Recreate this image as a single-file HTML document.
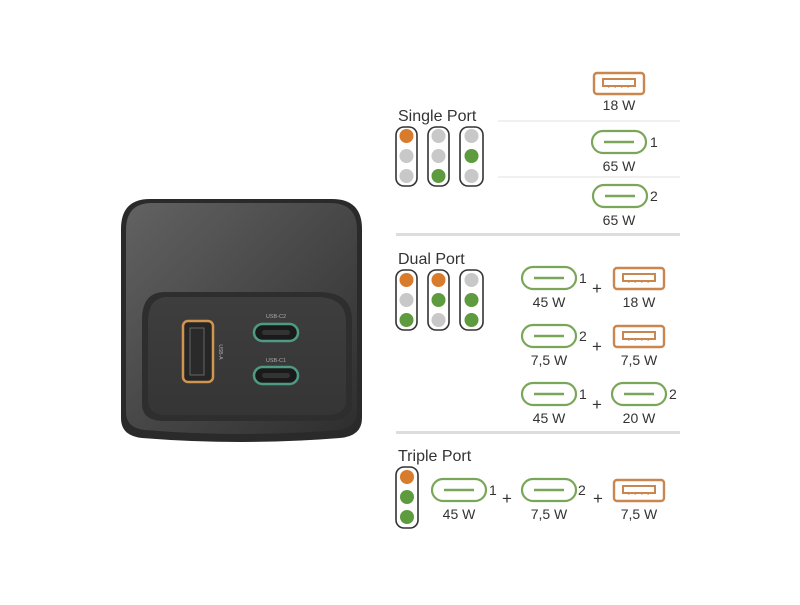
<!DOCTYPE html>
<html><head><meta charset="utf-8"><style>
html,body{margin:0;padding:0;background:#fff;}
body{width:800px;height:600px;overflow:hidden;}
text{font-family:"Liberation Sans",sans-serif;}
</style></head><body>
<svg width="800" height="600" viewBox="0 0 800 600" xmlns="http://www.w3.org/2000/svg">
<defs>
<linearGradient id="bg" x1="0" y1="0" x2="1" y2="1">
<stop offset="0" stop-color="#626262"/><stop offset="0.6" stop-color="#424242"/><stop offset="1" stop-color="#2e2e2e"/>
</linearGradient>
<linearGradient id="pg" x1="0" y1="0" x2="0" y2="1">
<stop offset="0" stop-color="#3e3e3e"/><stop offset="1" stop-color="#353535"/>
</linearGradient>
<g id="uc"><rect x="0" y="0" width="54" height="22" rx="11" fill="#fff" stroke="#7aa65a" stroke-width="2.2"/><line x1="12" y1="11" x2="42" y2="11" stroke="#7aa65a" stroke-width="2.4"/></g>
<g id="ua"><rect x="0" y="0" width="50" height="21" rx="3" fill="#fff" stroke="#c9874f" stroke-width="2.4"/><rect x="9" y="6" width="32" height="7" fill="#fff" stroke="#c9874f" stroke-width="2"/><line x1="14" y1="14" x2="36" y2="14" stroke="#c9874f" stroke-width="1.2" stroke-dasharray="1.5 5"/></g>
</defs>

<path d="M150 199 H332 Q362 199 362 229 V418 Q362 436 340 438 Q242 446 142 438 Q121 436 121 418 V229 Q121 199 150 199 Z" fill="#2a2a2a"/>
<path d="M152 203 H330 Q357 203 357 230 V412 Q357 428 338 430 Q242 438 145 430 Q126 428 126 412 V230 Q126 203 152 203 Z" fill="url(#bg)"/>
<path d="M165 292 H318 Q352 292 352 320 V404 Q352 420 330 421 H162 Q142 420 142 404 V320 Q142 292 165 292 Z" fill="#2e2e2e"/>
<path d="M168 297 H316 Q346 297 346 322 V400 Q346 414 328 415 H164 Q148 414 148 400 V322 Q148 297 168 297 Z" fill="url(#pg)"/>
<rect x="183" y="321" width="30" height="61" rx="5" fill="#262626" stroke="#d0954f" stroke-width="2.5"/>
<rect x="190" y="328" width="14" height="47" fill="#2a2a2a" stroke="#666" stroke-width="1"/>
<text x="219" y="352" font-size="5" fill="#aaa" transform="rotate(90 219 352)" text-anchor="middle">USB-A</text>
<text x="276" y="318" font-size="5.5" fill="#aaa" text-anchor="middle">USB-C2</text>
<rect x="254" y="324" width="44" height="17" rx="8.5" fill="#1a1a1a" stroke="#4f9a84" stroke-width="2.5"/>
<rect x="262" y="330" width="28" height="5" rx="2.5" fill="#333"/>
<text x="276" y="362" font-size="5.5" fill="#aaa" text-anchor="middle">USB-C1</text>
<rect x="254" y="367" width="44" height="17" rx="8.5" fill="#1a1a1a" stroke="#4f9a84" stroke-width="2.5"/>
<rect x="262" y="373" width="28" height="5" rx="2.5" fill="#333"/>

<g font-size="16" fill="#333">
<text x="398" y="121">Single Port</text>
<text x="398" y="264">Dual Port</text>
<text x="398" y="461">Triple Port</text>
</g>

<g stroke="#333" stroke-width="1.6" fill="#fff">
<rect x="396" y="127" width="21" height="59" rx="8"/>
<rect x="428" y="127" width="21" height="59" rx="8"/>
<rect x="460" y="127" width="23" height="59" rx="8"/>
<rect x="396" y="270" width="21" height="60" rx="8"/>
<rect x="428" y="270" width="21" height="60" rx="8"/>
<rect x="460" y="270" width="23" height="60" rx="8"/>
<rect x="396" y="467" width="22" height="61" rx="8"/>
</g>
<g>
<circle cx="406.5" cy="136" r="7" fill="#d87b2c"/><circle cx="406.5" cy="156" r="7" fill="#c8c8c8"/><circle cx="406.5" cy="176" r="7" fill="#c8c8c8"/>
<circle cx="438.5" cy="136" r="7" fill="#c8c8c8"/><circle cx="438.5" cy="156" r="7" fill="#c8c8c8"/><circle cx="438.5" cy="176" r="7" fill="#5e9a3e"/>
<circle cx="471.5" cy="136" r="7" fill="#c8c8c8"/><circle cx="471.5" cy="156" r="7" fill="#5e9a3e"/><circle cx="471.5" cy="176" r="7" fill="#c8c8c8"/>
<circle cx="406.5" cy="280" r="7" fill="#d87b2c"/><circle cx="406.5" cy="300" r="7" fill="#c8c8c8"/><circle cx="406.5" cy="320" r="7" fill="#5e9a3e"/>
<circle cx="438.5" cy="280" r="7" fill="#d87b2c"/><circle cx="438.5" cy="300" r="7" fill="#5e9a3e"/><circle cx="438.5" cy="320" r="7" fill="#c8c8c8"/>
<circle cx="471.5" cy="280" r="7" fill="#c8c8c8"/><circle cx="471.5" cy="300" r="7" fill="#5e9a3e"/><circle cx="471.5" cy="320" r="7" fill="#5e9a3e"/>
<circle cx="407" cy="477" r="7" fill="#d87b2c"/><circle cx="407" cy="497" r="7" fill="#5e9a3e"/><circle cx="407" cy="517" r="7" fill="#5e9a3e"/>
</g>

<line x1="498" y1="121" x2="680" y2="121" stroke="#e0e0e0" stroke-width="1"/>
<line x1="498" y1="177" x2="680" y2="177" stroke="#e0e0e0" stroke-width="1"/>
<line x1="396" y1="234.5" x2="680" y2="234.5" stroke="#ddd" stroke-width="3"/>
<line x1="396" y1="432.5" x2="680" y2="432.5" stroke="#ddd" stroke-width="3"/>

<use href="#ua" x="594" y="73"/>
<use href="#uc" x="592" y="131"/>
<use href="#uc" x="593" y="185"/>
<use href="#uc" x="522" y="267"/><use href="#ua" x="614" y="268"/>
<use href="#uc" x="522" y="325"/><use href="#ua" x="614" y="326"/>
<use href="#uc" x="522" y="383"/><use href="#uc" x="612" y="383"/>
<use href="#uc" x="432" y="479"/><use href="#uc" x="522" y="479"/><use href="#ua" x="614" y="480"/>

<g font-size="14" fill="#333" text-anchor="middle">
<text x="619" y="110">18 W</text>
<text x="619" y="171">65 W</text>
<text x="619" y="225">65 W</text>
<text x="549" y="307">45 W</text><text x="639" y="307">18 W</text>
<text x="549" y="365">7,5 W</text><text x="639" y="365">7,5 W</text>
<text x="549" y="423">45 W</text><text x="639" y="423">20 W</text>
<text x="459" y="519">45 W</text><text x="549" y="519">7,5 W</text><text x="639" y="519">7,5 W</text>
</g>
<g font-size="14" fill="#333">
<text x="650" y="147">1</text><text x="650" y="201">2</text>
<text x="579" y="283">1</text><text x="579" y="341">2</text><text x="579" y="399">1</text><text x="669" y="399">2</text>
<text x="489" y="495">1</text><text x="578" y="495">2</text>
</g>
<g font-size="17" fill="#333" text-anchor="middle">
<text x="597" y="294">+</text><text x="597" y="352">+</text><text x="597" y="410">+</text>
<text x="507" y="504">+</text><text x="598" y="504">+</text>
</g>
</svg>
</body></html>
